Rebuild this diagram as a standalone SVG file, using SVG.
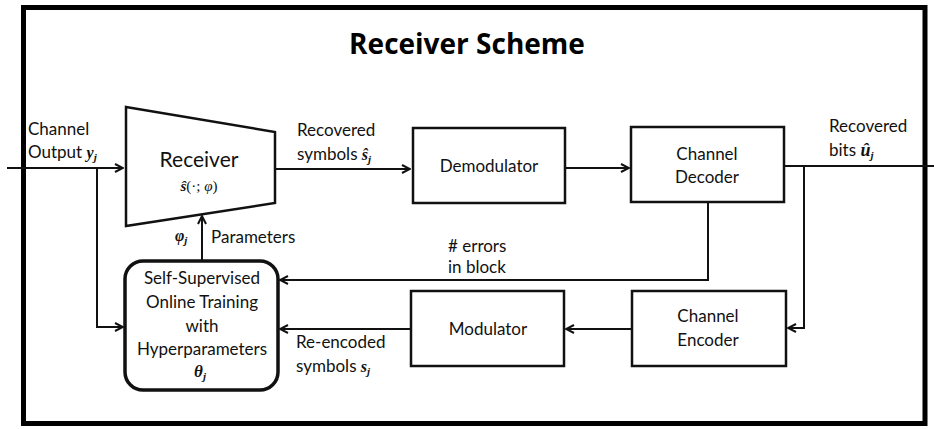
<svg xmlns="http://www.w3.org/2000/svg" width="934" height="429" viewBox="0 0 934 429">
<style>
.t{font-family:Lato,"Liberation Sans",sans-serif;font-size:17px;fill:#111}
.m{font-family:"Liberation Serif",serif;font-style:italic;font-weight:bold;fill:#111}
.box{fill:#fff;stroke:#111;stroke-width:2.5}
.ln{fill:none;stroke:#111;stroke-width:2}
</style>
<defs>
<marker id="arr" viewBox="0 0 10 10" refX="9" refY="5" markerWidth="10" markerHeight="10" markerUnits="userSpaceOnUse" orient="auto">
<path d="M1,1 L9,5 L1,9" fill="none" stroke="#111" stroke-width="2"/>
</marker>
</defs>
<rect x="0" y="0" width="934" height="429" fill="#fff"/>
<rect x="23.5" y="7.5" width="901.5" height="416" fill="none" stroke="#000" stroke-width="5"/>
<text x="467" y="54" text-anchor="middle" style="font-family:'Open Sans','Liberation Sans',sans-serif;font-weight:bold;font-size:28px;fill:#000">Receiver Scheme</text>

<g id="connectors">
<path class="ln" d="M7,168 H123" marker-end="url(#arr)"/>
<path class="ln" d="M97,168 V327 H123" marker-end="url(#arr)"/>
<path class="ln" d="M202,261 V216" marker-end="url(#arr)"/>
<path class="ln" d="M276,169 H410" marker-end="url(#arr)"/>
<path class="ln" d="M565,168 H629" marker-end="url(#arr)"/>
<path class="ln" d="M784,166 H934"/>
<path class="ln" d="M804,166 V328 H788" marker-end="url(#arr)"/>
<path class="ln" d="M708,202 V280 H280" marker-end="url(#arr)"/>
<path class="ln" d="M632,329 H566" marker-end="url(#arr)"/>
<path class="ln" d="M411,329 H280" marker-end="url(#arr)"/>
</g>

<g id="labels">
<text class="t" x="28" y="135">Channel</text>
<text class="t" x="28" y="158">Output <tspan class="m" style="font-size:16px">y</tspan><tspan class="m" style="font-size:11px" dy="3">j</tspan></text>
<text class="t" x="297" y="136">Recovered</text>
<text class="t" x="297" y="160">symbols <tspan class="m" style="font-size:16px">ŝ</tspan><tspan class="m" style="font-size:11px" dy="3">j</tspan></text>
<text class="t" x="829" y="132">Recovered</text>
<text class="t" x="829" y="156">bits  <tspan class="m" style="font-size:18px">û</tspan><tspan class="m" style="font-size:11px" dy="3">j</tspan></text>
<text class="m" x="175" y="241" style="font-size:16px">φ<tspan style="font-size:11px" dy="3">j</tspan></text>
<text class="t" x="211" y="243">Parameters</text>
<text class="t" x="448" y="252"># errors</text>
<text class="t" x="448" y="273">in block</text>
<text class="t" x="296" y="348">Re-encoded</text>
<text class="t" x="296" y="372">symbols <tspan class="m" style="font-size:16px">s</tspan><tspan class="m" style="font-size:11px" dy="3">j</tspan></text>
</g>

<g id="receiver">
<path class="box" d="M126,107 L275,132 L275,203 L126,226 Z"/>
<text class="t" x="199" y="167" text-anchor="middle" style="font-size:21px">Receiver</text>
<text x="199" y="191" text-anchor="middle" style="font-family:'Liberation Serif',serif;font-size:15px;fill:#111"><tspan style="font-style:italic;font-weight:bold">ŝ</tspan>(·; <tspan style="font-style:italic">φ</tspan>)</text>
</g>

<g id="demodulator">
<rect class="box" x="413" y="128" width="152" height="75"/>
<text class="t" x="489" y="172" text-anchor="middle">Demodulator</text>
</g>

<g id="decoder">
<rect class="box" x="631" y="127" width="153" height="75"/>
<text class="t" x="707" y="160" text-anchor="middle">Channel</text>
<text class="t" x="707" y="183" text-anchor="middle">Decoder</text>
</g>

<g id="encoder">
<rect class="box" x="632" y="291" width="154" height="75"/>
<text class="t" x="708" y="322" text-anchor="middle">Channel</text>
<text class="t" x="708" y="346" text-anchor="middle">Encoder</text>
</g>

<g id="modulator">
<rect class="box" x="411" y="291" width="153" height="75"/>
<text class="t" x="488" y="335" text-anchor="middle">Modulator</text>
</g>

<g id="training">
<rect x="125" y="261" width="153" height="129" rx="18" ry="18" fill="#fff" stroke="#111" stroke-width="3.5"/>
<text class="t" x="202" y="284" text-anchor="middle">Self-Supervised</text>
<text class="t" x="202" y="308" text-anchor="middle">Online Training</text>
<text class="t" x="202" y="332" text-anchor="middle">with</text>
<text class="t" x="202" y="355" text-anchor="middle">Hyperparameters</text>
<text class="m" x="200" y="377" text-anchor="middle" style="font-size:17px">θ<tspan style="font-size:11px" dy="3">j</tspan></text>
</g>
</svg>
